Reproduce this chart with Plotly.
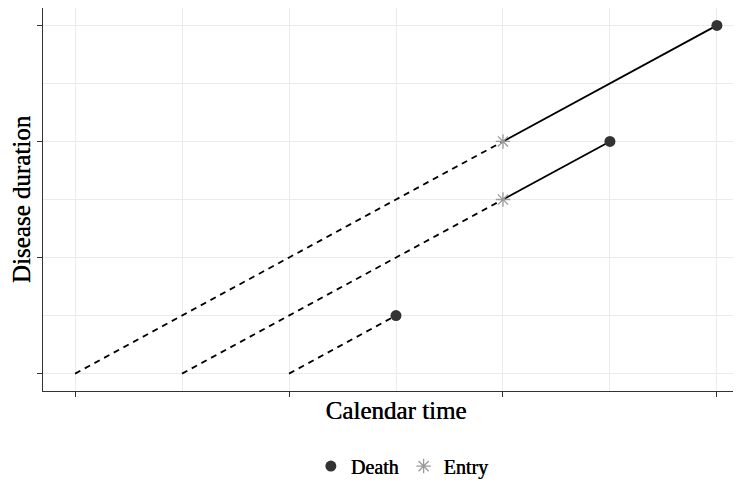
import plotly.graph_objects as go

# Lexis diagram data
onset_time = [0, 1, 2]            # calendar time at disease onset (duration 0)
end_dash_time = [4, 4, 3]         # calendar time where the dashed part ends
end_dash_dur = [2, 1.5, 0.5]      # disease duration there
entry_time = [4, 4]               # entry points (subjects 1 and 2)
entry_dur = [2, 1.5]
death_time = [6, 5, 3]            # death points
death_dur = [3, 2, 0.5]
x_ticks = [0, 2, 4, 6]
y_ticks = [0, 1, 2, 3]

FONT = "Liberation Serif"
SHADOW = "0.4px 0 0 black"
fig = go.Figure()

for o, xe, ye in zip(onset_time, end_dash_time, end_dash_dur):
    fig.add_trace(go.Scatter(x=[o, xe], y=[0, ye], mode="lines",
                             line=dict(color="black", width=1.8, dash="6px,5px"),
                             showlegend=False, hoverinfo="skip"))
for xe, ye, xd, yd in zip(entry_time, entry_dur, death_time, death_dur):
    fig.add_trace(go.Scatter(x=[xe, xd], y=[ye, yd], mode="lines",
                             line=dict(color="black", width=1.8),
                             showlegend=False, hoverinfo="skip"))

fig.add_trace(go.Scatter(x=death_time, y=death_dur, mode="markers", name="Death",
                         marker=dict(symbol="circle", size=11, color="#333333")))
fig.add_trace(go.Scatter(x=entry_time, y=entry_dur, mode="markers", name="Entry",
                         marker=dict(symbol="asterisk-open", size=12,
                                     line=dict(color="#9a9a9a", width=1.3), color="#9a9a9a")))

fig.update_layout(
    width=741, height=482,
    margin=dict(l=35, r=0, t=0, b=99),
    plot_bgcolor="white", paper_bgcolor="white",
    font=dict(family=FONT, color="black"),
    legend=dict(orientation="h", x=0.509, xanchor="center", y=-0.196, yanchor="middle",
                font=dict(family=FONT, size=20, shadow=SHADOW), tracegroupgap=0),
    xaxis=dict(range=[-0.3, 6.3], tickvals=x_ticks, ticktext=["" for _ in x_ticks],
               showgrid=True, gridcolor="#EBEBEB", gridwidth=1.2,
               minor=dict(dtick=1, showgrid=True, gridcolor="#EBEBEB", gridwidth=0.8),
               ticks="outside", ticklen=5, tickcolor="#333333", tickwidth=1,
               showline=True, linecolor="#333333", linewidth=1.2, mirror=True,
               zeroline=False, automargin=False,
               title=dict(text="Calendar time", font=dict(family=FONT, size=25, shadow=SHADOW),
                          standoff=2)),
    yaxis=dict(range=[-0.15, 3.15], tickvals=y_ticks, ticktext=["" for _ in y_ticks],
               showgrid=True, gridcolor="#EBEBEB", gridwidth=1.2,
               minor=dict(dtick=0.5, showgrid=True, gridcolor="#EBEBEB", gridwidth=0.8),
               ticks="outside", ticklen=5, tickcolor="#333333", tickwidth=1,
               showline=True, linecolor="#333333", linewidth=1.2, mirror=True,
               zeroline=False, automargin=False,
               title=dict(text="Disease duration", font=dict(family=FONT, size=25, shadow=SHADOW),
                          standoff=13)),
)

fig.write_html("out.html")
